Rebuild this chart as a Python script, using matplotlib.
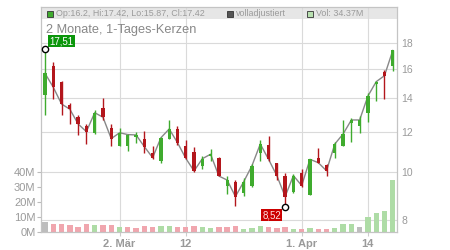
import matplotlib
matplotlib.use('Agg')
import matplotlib.pyplot as plt
from matplotlib.patches import Rectangle
from matplotlib.transforms import blended_transform_factory
from matplotlib.ticker import FixedLocator, NullLocator
import numpy as np

plt.rcParams['font.family'] = ['Liberation Sans', 'DejaVu Sans']

# daily candles, 2 months
opens = [14.21, 16.23, 15.06, 13.59, 12.83, 12.34, 11.95, 13.38, 12.21, 11.26,
         11.26, 11.70, 11.61, 10.88, 10.51, 11.63, 12.16, 11.23, 10.93, 10.28,
         10.74, 10.66, 9.38, 9.55, 9.08, 9.38, 10.91, 11.30, 10.39, 9.82,
         9.12, 9.95, 9.00, 10.66, 10.31, 10.88, 11.26, 12.48, 12.34, 13.10,
         14.94, 15.76, 16.20]
highs = [17.51, 16.53, 15.17, 13.71, 12.96, 12.44, 13.26, 13.99, 12.44, 12.20,
         11.88, 12.01, 12.04, 11.25, 11.74, 12.67, 12.33, 11.56, 11.18, 10.74,
         11.09, 10.70, 9.82, 9.62, 9.70, 10.36, 11.56, 11.78, 10.42, 9.92,
         9.89, 10.11, 10.60, 11.16, 10.34, 11.47, 12.67, 12.77, 12.90, 14.32,
         15.15, 15.93, 17.42]
lows = [12.96, 13.95, 12.96, 12.44, 11.83, 11.35, 11.88, 12.67, 11.25, 11.24,
        11.01, 11.39, 10.91, 10.58, 10.39, 11.60, 11.30, 10.60, 10.00, 10.14,
        10.51, 9.78, 9.03, 8.56, 8.96, 9.33, 10.50, 10.51, 9.62, 8.52,
        9.06, 9.33, 8.98, 10.39, 9.80, 10.66, 11.26, 11.47, 11.92, 12.57,
        13.84, 13.95, 15.87]
closes = [15.69, 14.72, 13.63, 13.31, 12.44, 12.01, 13.10, 12.83, 11.63, 11.95,
          11.85, 11.83, 11.21, 10.66, 11.68, 12.16, 11.42, 10.63, 10.03, 10.61,
          10.83, 9.80, 9.62, 8.92, 9.55, 10.28, 11.35, 10.58, 9.82, 8.92,
          9.82, 9.38, 10.58, 10.42, 10.04, 11.35, 11.88, 12.67, 12.67, 14.14,
          15.10, 15.52, 17.42]
volumes = [6.9, 5.1, 5.1, 4.4, 3.5, 5.1, 4.4, 4.4, 4.4, 3.1,
           3.1, 2.4, 3.7, 3.1, 3.7, 3.7, 3.1, 3.1, 3.7, 3.1,
           2.4, 3.1, 3.5, 3.8, 2.2, 2.7, 4.2, 3.5, 2.9, 3.5,
           2.2, 2.2, 2.9, 2.2, 2.2, 2.9, 5.6, 5.6, 3.5, 10.2,
           13.0, 14.2, 34.37]  # Mio.

tick_pos = [9, 17, 31, 39]
tick_labels = ['2. Mär', '12', '1. Apr', '14']
price_ticks = [8, 10, 12, 14, 16, 18]
vol_ticks = [0, 10, 20, 30, 40]

GREEN = '#3fab2e'
RED = '#b3161c'
VGREEN = '#aedca6'
VRED = '#f0a6ae'
VGRAY = '#bdbdbd'
GRID = '#dadada'
TXT = '#9a9a9a'

o = np.array(opens)
h = np.array(highs)
l = np.array(lows)
c = np.array(closes)
x = np.arange(len(c))

# volume colour from change of close
vcol = [VGRAY]
for i in range(1, len(c)):
    d = c[i] - c[i - 1]
    if abs(d) < 1e-9:
        vcol.append(VGRAY)
    elif d > 0:
        vcol.append(VGREEN)
    else:
        vcol.append(VRED)

fig = plt.figure(figsize=(4.5, 2.5), dpi=100)
ax = fig.add_axes([41 / 450, 18 / 250, 356 / 450, 224.7 / 250])
axp = ax.twinx()

x0 = (41 - 45) / 8.28
x1 = (397 - 45) / 8.28
ax.set_xlim(x0, x1)
ax.set_ylim(0, 149.8)
axp.set_yscale('log')
axp.set_ylim(7.584, 21.23)

# header band
ax.add_patch(Rectangle((0, 1 - 11.7 / 224.7), 1, 11.7 / 224.7, transform=ax.transAxes,
                       fc='#e6e6e6', ec='none', zorder=0.2))

# grid
ax.set_axisbelow(True)
ax.set_xticks(tick_pos)
ax.set_xticklabels(tick_labels)
ax.grid(axis='x', color=GRID, lw=0.8)
trans = blended_transform_factory(ax.transAxes, axp.transData)
for p in price_ticks:
    ax.plot([0, 1], [p, p], transform=trans, color=GRID, lw=0.8, zorder=0.5)

# volume
ax.bar(x, volumes, width=0.65, color=vcol, zorder=1)

# closes line + candles
axp.plot(x, c, color='#888888', lw=1.0, zorder=2)
cc = np.where(c >= o, GREEN, RED)
axp.vlines(x, l, h, colors=cc, lw=1.0, zorder=3)
axp.bar(x, np.maximum(np.abs(c - o), 0.03), bottom=np.minimum(o, c), width=0.4,
        color=cc, zorder=4)

# hi / lo markers
ih = int(np.argmax(h))
il = int(np.argmin(l))
axp.plot([ih, il], [h[ih], l[il]], 'o', ms=4.5, mfc='white', mec='black', mew=1, zorder=5)
axp.annotate(f'{h[ih]:.2f}'.replace('.', ','), xy=(ih, h[ih]), xytext=(12, 5.8),
             textcoords='offset points', ha='center', va='center', color='white', fontsize=7,
             bbox=dict(boxstyle='square,pad=0.12', fc='#0b960b', ec='none'), zorder=6)
axp.annotate(f'{l[il]:.2f}'.replace('.', ','), xy=(il, l[il]), xytext=(-9.6, -6.2),
             textcoords='offset points', ha='center', va='center', color='#ffe0e0', fontsize=7,
             bbox=dict(boxstyle='square,pad=0.12', fc='#cc0000', ec='none'), zorder=6)

# axes styling
ax.set_yticks(vol_ticks)
ax.set_yticklabels([f'{v}M' for v in vol_ticks])
ax.tick_params(axis='y', length=3, color='#bbbbbb', labelcolor=TXT, labelsize=8, pad=1)
ax.tick_params(axis='x', length=3, color='#cccccc', labelcolor=TXT, labelsize=8, pad=2)
for t in ax.get_xticklabels():
    t.set_fontweight('bold')
axp.yaxis.set_major_locator(FixedLocator(price_ticks))
axp.yaxis.set_minor_locator(NullLocator())
axp.set_yticklabels([str(p) for p in price_ticks])
axp.tick_params(axis='y', length=0, labelcolor=TXT, labelsize=7.5, pad=3)
for a in (ax, axp):
    for s in a.spines.values():
        s.set_color('#c4c4c4')
        s.set_linewidth(0.8)

# header texts
def fx(px):
    return px / 450

def fy(py):
    return 1 - py / 250

for sx, fc in [(46.7, GREEN), (226.7, '#555555'), (306.7, '#b8e0b0')]:
    fig.patches.append(Rectangle((fx(sx), fy(17)), 6 / 450, 6 / 250, transform=fig.transFigure,
                                 fc=fc, ec='#333333', lw=0.6, zorder=10))
fig.text(fx(56), fy(14), f'Op:{opens[-1]:g}, Hi:{highs[-1]:g}, Lo:{lows[-1]:g}, Cl:{closes[-1]:g}',
         fontsize=6.4, color=TXT, va='center', ha='left')
fig.text(fx(236), fy(14), 'volladjustiert', fontsize=6.4, color=TXT, va='center', ha='left')
fig.text(fx(316), fy(14), f'Vol: {volumes[-1]:.2f}M', fontsize=6.4, color=TXT, va='center', ha='left')
fig.text(fx(46.5), fy(33.3), '2 Monate, 1-Tages-Kerzen', fontsize=9.2, color='#888888',
         va='baseline', ha='left')

fig.savefig('out.png', dpi=100)
